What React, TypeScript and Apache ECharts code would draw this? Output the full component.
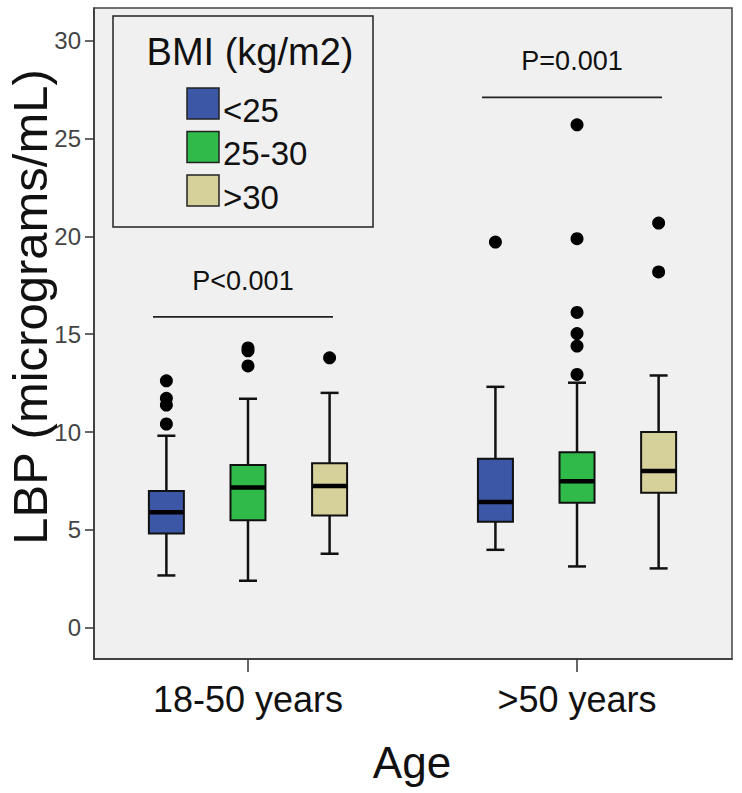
import React, { useEffect, useRef } from "react";
import * as echarts from "echarts";

// ---- data ----
const categories = ["18-50 years", ">50 years"];
const bmiGroups = ["<25", "25-30", ">30"];
const groupColors = ["#3d57a7", "#2fba4a", "#d6d09b"];
// box stats per category: [min, Q1, median, Q3, max]
const boxLt25 = [
  [2.67, 4.81, 5.9, 6.99, 9.81],
  [3.98, 5.41, 6.43, 8.64, 12.31],
];
const box25to30 = [
  [2.4, 5.49, 7.16, 8.32, 11.7],
  [3.13, 6.39, 7.48, 8.96, 12.52],
];
const boxGt30 = [
  [3.78, 5.73, 7.24, 8.4, 12.0],
  [3.03, 6.9, 8.01, 10.0, 12.89],
];
const outLt25 = [[12.62, 11.72, 11.38, 10.41], [19.71]];
const out25to30 = [[14.3, 14.15, 13.38], [25.7, 19.88, 16.11, 15.03, 14.39, 12.94]];
const outGt30 = [[13.79], [20.68, 18.18]];
const pLabels = ["P<0.001", "P=0.001"];
const pLineLevels = [15.88, 27.1];
const yTicks = [0, 5, 10, 15, 20, 25, 30];

const boxSets = [boxLt25, box25to30, boxGt30];
const outSets = [outLt25, out25to30, outGt30];

const FONT = "'Liberation Sans', Arial, sans-serif";
const GROUP_OFFSET = 0.248;

export default function App() {
  const ref = useRef<HTMLDivElement>(null);

  useEffect(() => {
    if (!ref.current) return;
    const chart = echarts.init(ref.current, null, { renderer: "svg" });

    const boxSeries = bmiGroups.map((name, gi) => ({
      type: "custom",
      name,
      z: 3,
      encode: { x: 0, y: [2, 6] },
      data: categories.map((_, ci) => [ci, (gi - 1) * GROUP_OFFSET, ...boxSets[gi][ci]]),
      renderItem: (params: any, api: any) => {
        const x = api.value(0) + api.value(1);
        const p = (v: number) => api.coord([x, v]);
        const [cx, yMin] = p(api.value(2));
        const yQ1 = p(api.value(3))[1];
        const yMed = p(api.value(4))[1];
        const yQ3 = p(api.value(5))[1];
        const yMax = p(api.value(6))[1];
        const half = 17.5;
        const cap = 9;
        const ls = { stroke: "#111", lineWidth: 2.5 };
        return {
          type: "group",
          children: [
            { type: "line", shape: { x1: cx, y1: yQ3, x2: cx, y2: yMax }, style: ls },
            { type: "line", shape: { x1: cx, y1: yQ1, x2: cx, y2: yMin }, style: ls },
            { type: "line", shape: { x1: cx - cap, y1: yMax, x2: cx + cap, y2: yMax }, style: ls },
            { type: "line", shape: { x1: cx - cap, y1: yMin, x2: cx + cap, y2: yMin }, style: ls },
            {
              type: "rect",
              shape: { x: cx - half, y: yQ3, width: half * 2, height: yQ1 - yQ3 },
              style: { fill: groupColors[gi], stroke: "#111", lineWidth: 2 },
            },
            {
              type: "line",
              shape: { x1: cx - half, y1: yMed, x2: cx + half, y2: yMed },
              style: { stroke: "#000", lineWidth: 4.5 },
            },
          ],
        };
      },
    }));

    const outlierSeries = bmiGroups.map((name, gi) => ({
      type: "scatter",
      name: name + " outliers",
      z: 4,
      symbol: "circle",
      symbolSize: 13,
      itemStyle: { color: "#000", opacity: 1 },
      data: categories.flatMap((_, ci) =>
        outSets[gi][ci].map((v) => [ci + (gi - 1) * GROUP_OFFSET, v])
      ),
    }));

    const pSeries = {
      type: "custom",
      name: "p-values",
      z: 3,
      encode: { x: 0, y: 1 },
      data: categories.map((_, ci) => [ci, pLineLevels[ci]]),
      renderItem: (params: any, api: any) => {
        const [cx, cy] = api.coord([api.value(0), api.value(1)]);
        return {
          type: "group",
          children: [
            {
              type: "line",
              shape: { x1: cx - 95, y1: cy, x2: cx + 85, y2: cy },
              style: { stroke: "#222", lineWidth: 1.8 },
            },
            {
              type: "text",
              style: {
                text: pLabels[params.dataIndex],
                x: cx - 5,
                y: cy - 36,
                align: "center",
                verticalAlign: "middle",
                fontSize: 27,
                fontFamily: FONT,
                fill: "#111",
              },
            },
          ],
        };
      },
    };

    const legendTop = 88;
    const legendStep = 43.5;
    const legendGraphics: any[] = [
      {
        type: "rect",
        z: 100,
        shape: { x: 113, y: 16, width: 260, height: 211 },
        style: { fill: "#f0f0f0", stroke: "#222", lineWidth: 1.5 },
      },
      {
        type: "text",
        z: 101,
        style: {
          text: "BMI (kg/m2)",
          x: 250,
          y: 52,
          align: "center",
          verticalAlign: "middle",
          fontSize: 38,
          fontFamily: FONT,
          fill: "#111",
        },
      },
      ...bmiGroups.flatMap((name, gi) => [
        {
          type: "rect",
          z: 101,
          shape: { x: 187, y: legendTop + gi * legendStep, width: 32, height: 31 },
          style: { fill: groupColors[gi], stroke: "#222", lineWidth: 1.5 },
        },
        {
          type: "text",
          z: 101,
          style: {
            text: name,
            x: 223,
            y: legendTop + gi * legendStep + 22,
            align: "left",
            verticalAlign: "middle",
            fontSize: 33,
            fontFamily: FONT,
            fill: "#111",
          },
        },
      ]),
      {
        type: "text",
        z: 101,
        rotation: Math.PI / 2,
        x: 30,
        y: 307,
        style: {
          text: "LBP (micrograms/mL)",
          x: 0,
          y: 0,
          align: "center",
          verticalAlign: "middle",
          fontSize: 49,
          fontFamily: FONT,
          fill: "#111",
        },
      },
      {
        type: "text",
        z: 101,
        style: {
          text: "Age",
          x: 412,
          y: 762,
          align: "center",
          verticalAlign: "middle",
          fontSize: 44,
          fontFamily: FONT,
          fill: "#111",
        },
      },
    ];

    chart.setOption({
      animation: false,
      backgroundColor: "#ffffff",
      grid: {
        left: 94,
        top: 8,
        width: 638,
        height: 651,
        show: true,
        backgroundColor: "#f0f0f0",
        borderColor: "#444",
        borderWidth: 1.5,
        containLabel: false,
        outerBoundsMode: "none",
      },
      xAxis: {
        type: "value",
        min: -0.468,
        max: 1.471,
        splitLine: { show: false },
        axisLine: { show: true, onZero: false, lineStyle: { color: "#333", width: 1.5 } },
        axisTick: {
          show: true,
          customValues: [0, 1],
          length: 13,
          lineStyle: { color: "#333", width: 1.5 },
        },
        axisLabel: {
          customValues: [0, 1],
          formatter: (v: number) => categories[Math.round(v)] ?? "",
          margin: 22,
          fontSize: 36,
          fontFamily: FONT,
          color: "#111",
        },
      },
      yAxis: {
        type: "value",
        min: -1.6,
        max: 31.67,
        splitLine: { show: false },
        axisLine: { show: true, onZero: false, lineStyle: { color: "#333", width: 1.5 } },
        axisTick: {
          show: true,
          customValues: yTicks,
          length: 9,
          lineStyle: { color: "#333", width: 1.5 },
        },
        axisLabel: {
          customValues: yTicks,
          margin: 13,
          fontSize: 24,
          fontFamily: FONT,
          color: "#444",
        },
      },
      graphic: legendGraphics,
      series: [...boxSeries, ...outlierSeries, pSeries],
    });

    return () => chart.dispose();
  }, []);

  return (
    <div
      ref={ref}
      style={{ position: "absolute", left: 0, top: 0, width: 742, height: 793 }}
    />
  );
}
